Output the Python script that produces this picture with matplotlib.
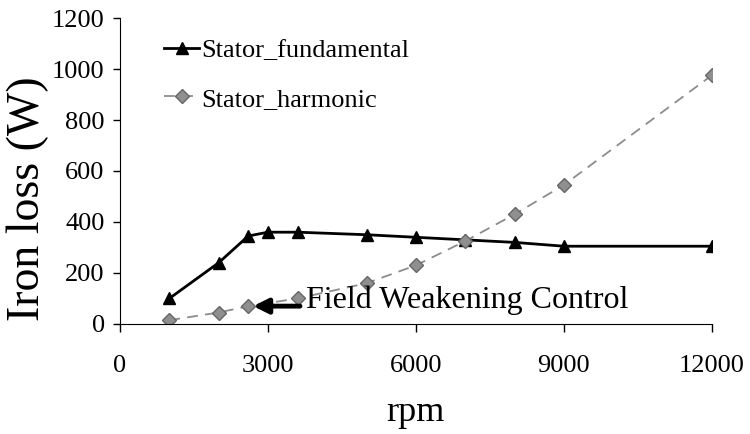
import matplotlib
matplotlib.use("Agg")
import matplotlib.pyplot as plt

rpm_fund = [1000, 2000, 2600, 3000, 3600, 5000, 6000, 7000, 8000, 9000, 12000]
stator_fund = [100, 240, 345, 360, 360, 350, 340, 330, 320, 305, 305]

rpm_harm = [1000, 2000, 2600, 3600, 5000, 6000, 7000, 8000, 9000, 12000]
stator_harm = [15, 45, 70, 100, 160, 230, 325, 430, 545, 975]

x_ticks = [0, 3000, 6000, 9000, 12000]
y_ticks = [0, 200, 400, 600, 800, 1000, 1200]

plt.rcParams['font.family'] = ['Liberation Serif', 'DejaVu Serif']

fig = plt.figure(figsize=(7.5, 4.34), dpi=100)
ax = fig.add_axes([0.16, 0.2535, 0.789, 0.705])

ax.plot(rpm_fund, stator_fund, color='black', lw=2, marker='^', ms=8,
        label='Stator_fundamental')
ax.plot(rpm_harm, stator_harm, color='#8c8c8c', lw=1.3, ls=(0, (6, 4)),
        marker='D', ms=7.5, mfc='#8f8f8f', mec='#666666', label='Stator_harmonic')

ax.annotate('', xy=(2700, 70), xytext=(3650, 70),
            arrowprops=dict(arrowstyle='-|>', lw=3.5, color='black',
                            mutation_scale=22, shrinkA=0, shrinkB=0))
ax.text(3780, 92, 'Field Weakening Control', fontsize=23, va='center', ha='left')

ax.set_xlim(0, 12000)
ax.set_ylim(0, 1200)
ax.set_xticks(x_ticks)
ax.set_yticks(y_ticks)
ax.tick_params(axis='x', direction='out', length=6, width=1, labelsize=19, pad=16)
ax.tick_params(axis='y', direction='out', length=5, width=1, labelsize=19, pad=6)
ax.spines['top'].set_visible(False)
ax.spines['right'].set_visible(False)
ax.set_xlabel('rpm', fontsize=26, labelpad=14)
ax.set_ylabel('Iron loss (W)', fontsize=33)
ax.yaxis.set_label_coords(-0.12, 0.41)

ax.legend(frameon=False, loc='upper left', bbox_to_anchor=(0.035, 1.01),
          fontsize=19, handlelength=1.3, handletextpad=0.1, labelspacing=0.95)

fig.savefig('out.png', dpi=100)
